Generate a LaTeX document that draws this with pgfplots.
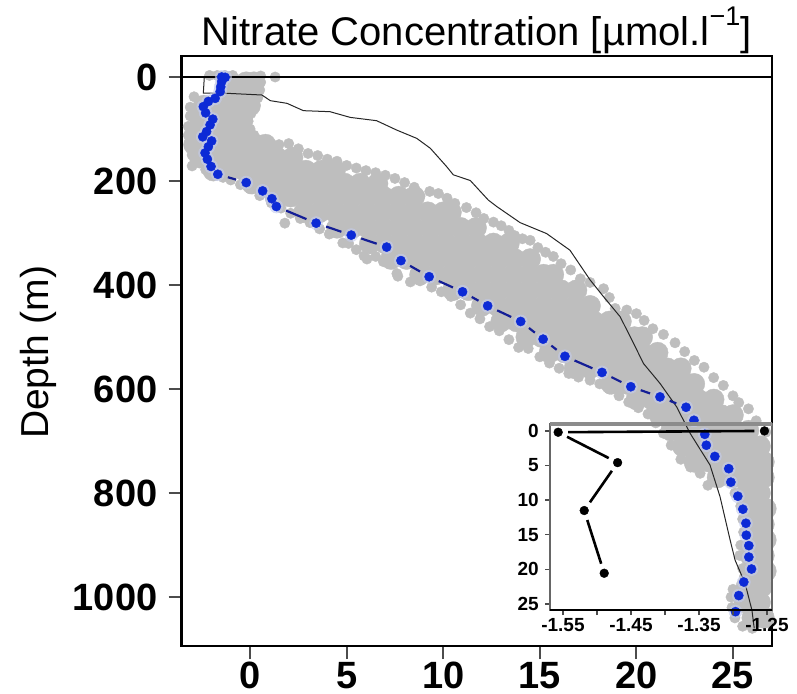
\documentclass[border=0pt]{standalone}
\usepackage{fontspec}
\setmainfont{Liberation Sans}
\usepackage{pgfplots}
\usepackage{pgfplotstable}
\pgfplotsset{compat=1.18}
\definecolor{cloud}{HTML}{BEBEBE}
\definecolor{dotblue}{HTML}{0C2AD6}
\definecolor{dashblue}{HTML}{141E96}
\definecolor{halo}{HTML}{C4CCEE}
\newcommand{\bseg}[4]{\addplot[forget plot,dashblue,line width=2.2pt,shorten >=10.5pt,shorten <=10.5pt] coordinates {(#1,#2)(#3,#4)};}
\newcommand{\kseg}[4]{\addplot[forget plot,black,line width=2.6pt,shorten >=10pt,shorten <=10pt] coordinates {(#1,#2)(#3,#4)};}
\pgfplotstableread{
x y
-1.29 0.6
-1.47 0
-1.47 9
-1.52 19
-1.55 28
-1.81 41
-2.16 47
-2.42 57
-2.30 69
-1.93 81
-2.07 92
-2.25 105
-2.45 115
-1.99 123
-2.16 134
-2.33 146
-2.21 158
-2.02 172
-1.67 187
-0.2 203
0.65 219
1.13 234
1.36 249
3.42 281
5.24 304
7.07 327
7.81 353
9.27 384
11.0 413
12.3 440
14.01 470
15.17 504
16.3 537
18.22 568
19.71 595.5
21.22 615
22.57 635
22.98 660
23.54 687
23.62 708
24.06 729.5
24.78 753
24.89 779
25.25 806
25.51 831
25.67 858
25.69 881
25.82 901
25.82 923
25.96 946
25.56 971
25.3 997
25.13 1028
}\bluetable
\begin{document}
\begin{tikzpicture}[x=1pt,y=1pt]
\useasboundingbox (0,0) rectangle (797,693);
\begin{axis}[
  at={(181.5pt,47pt)},anchor=south west,scale only axis,width=590.5pt,height=590pt,
  xmin=-3.55,xmax=27.02,ymin=-40.4,ymax=1094,y dir=reverse,
  xtick={0,5,10,15,20,25},xticklabels={0,5,10,15,20,25},
  ytick={0,200,400,600,800,1000},yticklabels={0,200,400,600,800,1000},
  xtick pos=bottom,ytick pos=left,tick align=outside,major tick length=13pt,
  tick style={line width=2pt,color=black!70},
  axis line style={line width=2.8pt,black},
  x tick label style={font=\fontsize{38}{40}\bfseries\selectfont,yshift=-3pt,inner sep=0pt},
  y tick label style={font=\fontsize{38}{40}\bfseries\selectfont,xshift=-11pt,inner sep=0pt},
  title={Nitrate Concentration [µmol.l\raisebox{0.5em}{\fontsize{27}{27}\selectfont −1}]},
  title style={font=\fontsize{40}{42}\selectfont,at={(axis description cs:0.5,1)},anchor=base,yshift=4.5pt,inner sep=0pt},
  ylabel={Depth (m)},
  every axis y label/.style={at={(axis description cs:-0.243,0.498)},rotate=90,anchor=center,font=\fontsize{39}{41}\selectfont},
]
% cloud, densest part
\addplot[only marks,mark=*,mark size=10.5pt,cloud,mark options={draw=cloud,fill=cloud}] coordinates {
(-1.0,10)(-0.2,10)(0.2,10)
(-1.1,30)(-0.3,30)(0.1,30)
(-2.4,55)(-1.5,55)(-0.7,55)(0.0,55)
(-2.6,80)(-1.8,80)(-1.0,80)(-0.4,80)
(-2.8,105)(-2.0,105)(-1.2,105)(-0.4,105)
(-2.9,130)(-2.1,130)(-1.3,130)(-0.5,130)(0.3,130)(0.8,130)
(-2.6,155)(-1.8,155)(-1.0,155)(-0.2,155)(0.6,155)(1.4,155)(2.2,155)
(-1.9,180)(-1.1,180)(-0.3,180)(0.5,180)(1.3,180)(2.1,180)(2.9,180)(3.7,180)(4.4,180)
(0.1,205)(0.9,205)(1.7,205)(2.5,205)(3.3,205)(4.1,205)(4.9,205)(5.7,205)(6.6,205)
(1.3,230)(2.1,230)(2.9,230)(3.7,230)(4.5,230)(5.3,230)(6.1,230)(6.9,230)(7.7,230)(8.5,230)
(2.8,260)(3.6,260)(4.4,260)(5.2,260)(6.0,260)(6.8,260)(7.6,260)(8.4,260)(9.2,260)(10.0,260)(10.4,260)
(4.5,290)(5.3,290)(6.1,290)(6.9,290)(7.7,290)(8.5,290)(9.3,290)(10.1,290)(10.9,290)(11.7,290)
(6.2,320)(7.0,320)(7.8,320)(8.6,320)(9.4,320)(10.2,320)(11.0,320)(11.8,320)(12.6,320)(13.4,320)
(7.3,350)(8.1,350)(8.9,350)(9.7,350)(10.5,350)(11.3,350)(12.1,350)(12.9,350)(13.7,350)(14.5,350)
(8.8,380)(9.6,380)(10.4,380)(11.2,380)(12.0,380)(12.8,380)(13.6,380)(14.4,380)(15.2,380)(15.7,380)
(10.5,410)(11.3,410)(12.1,410)(12.9,410)(13.7,410)(14.5,410)(15.3,410)(16.1,410)(16.9,410)
(12.0,440)(12.8,440)(13.6,440)(14.4,440)(15.2,440)(16.0,440)(16.8,440)(17.6,440)
(13.0,470)(13.8,470)(14.6,470)(15.4,470)(16.2,470)(17.0,470)(17.8,470)(18.6,470)(19.2,470)
(14.3,500)(15.1,500)(15.9,500)(16.7,500)(17.5,500)(18.3,500)(19.1,500)(19.9,500)(20.3,500)
(15.5,530)(16.3,530)(17.1,530)(17.9,530)(18.7,530)(19.5,530)(20.3,530)(21.1,530)
(16.8,560)(17.6,560)(18.4,560)(19.2,560)(20.0,560)(20.8,560)(21.6,560)(22.3,560)
(18.7,590)(19.5,590)(20.3,590)(21.1,590)(21.9,590)(22.7,590)(23.0,590)
(20.0,620)(20.8,620)(21.6,620)(22.4,620)(23.2,620)(24.0,620)
(21.2,650)(22.0,650)(22.8,650)(23.6,650)(24.4,650)(25.0,650)
(21.8,680)(22.6,680)(23.4,680)(24.2,680)(25.0,680)(25.8,680)
(22.4,710)(23.2,710)(24.0,710)(24.8,710)(25.6,710)(26.4,710)
(23.0,740)(23.8,740)(24.6,740)(25.4,740)(26.2,740)(26.6,740)
(24.2,770)(25.0,770)(25.8,770)(26.6,770)
(25.7,800)(26.4,800)(26.0,830)(26.7,830)(26.0,860)(26.6,860)(26.1,890)(26.7,890)
(25.9,920)(26.6,920)(26.0,950)(26.7,950)(25.7,980)(26.5,980)(25.6,1010)(26.4,1010)(26.0,1040)(26.6,1040)
};
% cloud, outlying points
\addplot[only marks,mark=*,mark size=5.2pt,cloud,mark options={draw=cloud,fill=cloud}] coordinates {
(1.3,0)(-2.1,-3)(-1.7,-3)(-1.3,-3)(-0.9,-3)(-1.5,15)(-1.4,30)
(0.55,-2)(0.55,10)(.5,25)(.4,40)(.25,55)(.05,70)(-.1,85)(0,100)(.2,112)(.55,125)(1.0,130)(1.5,130)(2.0,128)(2.5,138)(3.0,147)(3.5,151)(4.0,158)(4.5,162)(5.0,170)(5.5,175)(6.0,180)(6.5,184)(7.0,189)(7.5,195)(8.0,203)(8.5,212)(8.8,229)(9.3,220)(9.75,224)(10.2,233)(10.6,243)(11.2,251)(11.7,261)(12.1,272)(12.6,279)(13.0,286)(13.4,295)(13.7,305)(14.1,311)(14.5,314)(14.9,328)(15.3,337)(15.7,345)(16.1,359)(16.6,371)(17.1,388)(17.6,395)(18.3,407)(18.6,424)(18.9,445)(19.5,448)(20,455)(20.4,468)(20.85,484)(21.4,495)(22,511)(22.5,528)(23,545)(23.5,558)(24,578)(24.5,593)(25,613)(25.3,626)(25.8,638)(26.2,661)(26.7,683)
(-2.9,38)(-3.1,58)(-3.1,75)(-3.2,95)(-3.2,112)(-3.15,130)(-3.0,150)(-3.0,171)(-2.3,178)(-1.9,186)(-1.4,193)(-1.0,198)(-0.5,207)(0,215)(0.5,228)(1.1,242)(1.8,281)(1.6,252)(2.1,262)(2.6,272)(3.1,280)(3.6,292)(4.1,302)(4.8,319)(5.1,320)(5.5,332)(5.9,344)(6.05,350)(6.5,345)(6.9,355)(7.6,378)(7.65,383)(8.3,394)(8.8,392)(9.4,404)(9.9,413)(10.4,422)(10.9,438)(11.4,454)(11.9,465)(12.4,480)(12.9,488)(13.4,505)(13.9,520)(14.4,522)(15,538)(15.5,550)(16,560)(16.5,570)(17,577)(17.6,583)(18.1,590)(18.6,600)(19.1,613)(19.6,625)(20.1,636)(20.6,648)(21,665)(21.4,685)(21.8,708)(22.3,735)(22.8,750)(23.3,762)(23.7,785)
(24.7,770)(25.1,800)(25.4,825)(25.5,850)(25.55,875)(25.4,900)(25.35,920)(25.5,945)(25.6,960)(25.0,985)(24.9,1000)(24.95,1020)(25.1,1040)(25.5,1056)(26,1060)(26.4,1045)(26.8,1030)
};
\end{axis}
\begin{axis}[
  at={(181.5pt,47pt)},anchor=south west,scale only axis,width=590.5pt,height=590pt,
  xmin=-3.55,xmax=27.02,ymin=-40.4,ymax=1094,y dir=reverse,hide axis,
]
\addplot[black!85,line width=1pt] coordinates {
(-1.55,0.6)(-2.37,0.6)(-2.42,31)(-1.38,31)(0.61,34.6)(1.05,45.5)(1.91,50.6)(2.76,64.7)(4.14,66.7)(5.18,77.6)(6.55,84)(7.59,102)(8.63,118)(9.33,137)(10.17,172)(10.52,188)(11.4,199)(12.33,236.5)(12.77,249)(13.98,280)(15.35,301)(16.56,333)(17.6,390)(18.29,422)(19.16,461)(19.85,512)(20.37,551)(21.22,589)(22.08,634)(22.78,685)(23.81,746)(24.33,807)(24.85,890)(25.11,929)(25.63,974)(25.98,1025)(26.1,1060)
};
\addplot[black,line width=2.8pt] coordinates {(-3.55,0)(27.02,0)};
\end{axis}
\begin{axis}[
  at={(181.5pt,47pt)},anchor=south west,scale only axis,width=590.5pt,height=590pt,
  xmin=-3.55,xmax=27.02,ymin=-40.4,ymax=1094,y dir=reverse,hide axis,
]
\addplot[only marks,mark=*,mark size=6.6pt,halo,opacity=0.55,mark options={draw=halo,fill=halo}] table[x=x,y=y] {\bluetable};
\end{axis}
\begin{axis}[
  at={(181.5pt,47pt)},anchor=south west,scale only axis,width=590.5pt,height=590pt,
  xmin=-3.55,xmax=27.02,ymin=-40.4,ymax=1094,y dir=reverse,hide axis,
]
\bseg{-1.67}{187}{-0.2}{203}
\bseg{1.36}{249}{3.42}{281}
\bseg{3.42}{281}{5.24}{304}
\bseg{5.24}{304}{7.07}{327}
\bseg{7.81}{353}{9.27}{384}
\bseg{9.27}{384}{11.0}{413}
\bseg{11.0}{413}{12.3}{440}
\bseg{12.3}{440}{14.01}{470}
\bseg{14.01}{470}{15.17}{504}
\bseg{15.17}{504}{16.3}{537}
\bseg{16.3}{537}{18.22}{568}
\bseg{18.22}{568}{19.71}{595.5}
\bseg{19.71}{595.5}{21.22}{615}
\bseg{21.22}{615}{22.57}{635}
\addplot[only marks,mark=*,mark size=4.6pt,dotblue,mark options={draw=dotblue,fill=dotblue}] table[x=x,y=y] {\bluetable};
\end{axis}
\begin{axis}[
  at={(550pt,83pt)},anchor=south west,scale only axis,width=222pt,height=186pt,
  xmin=-1.569,xmax=-1.2426,ymin=-1,ymax=25.87,y dir=reverse,
  xtick={-1.55,-1.5,-1.45,-1.4,-1.35,-1.3,-1.25},xticklabels={-1.55,,-1.45,,-1.35,,-1.25},
  ytick={0,5,10,15,20,25},yticklabels={0,5,10,15,20,25},
  xtick pos=bottom,ytick pos=left,tick align=outside,major tick length=5pt,
  tick style={line width=1.4pt,color=black!70},
  axis line style={line width=2pt,black!60},
  x tick label style={font=\fontsize{19}{20}\bfseries\selectfont,yshift=-3pt,inner sep=0pt},
  y tick label style={font=\fontsize{19}{20}\bfseries\selectfont,xshift=-6pt,inner sep=0pt},
  clip=false,
]
\addplot[black!45,line width=3.5pt,forget plot] coordinates {(-1.569,-1)(-1.2426,-1)};
\addplot[black,line width=1.6pt,forget plot] coordinates {(-1.569,25.87)(-1.2426,25.87)};
\kseg{-1.2537}{0}{-1.557}{0.19}
\kseg{-1.557}{0.19}{-1.4696}{4.58}
\kseg{-1.4696}{4.58}{-1.5187}{11.5}
\kseg{-1.5187}{11.5}{-1.4893}{20.56}
\addplot[only marks,mark=*,mark size=4.4pt,black,mark options={draw=black,fill=black}] coordinates {
(-1.2537,0)(-1.557,0.19)(-1.4696,4.58)(-1.5187,11.5)(-1.4893,20.56)
};
\end{axis}
\end{tikzpicture}
\end{document}
